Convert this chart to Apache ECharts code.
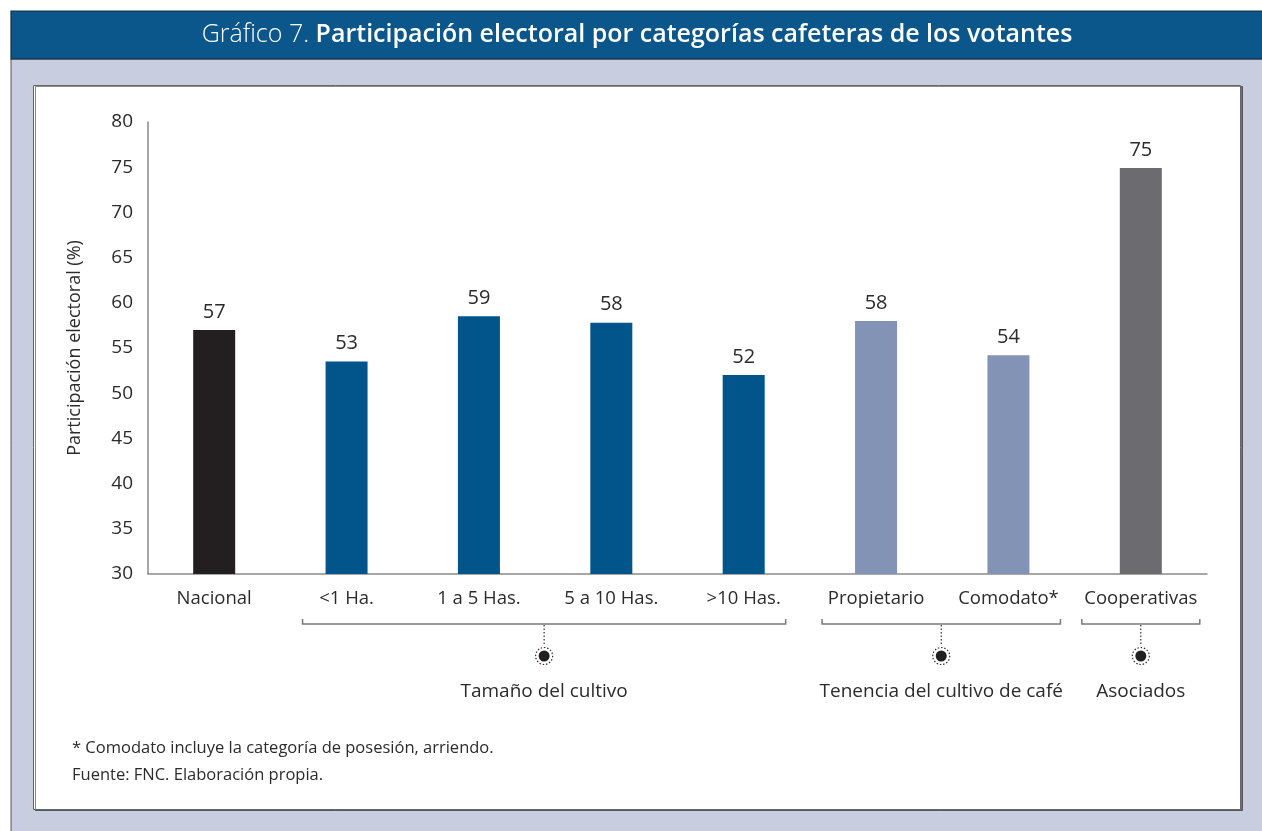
<!DOCTYPE html>
<html><head><meta charset="utf-8">
<script src="https://cdn.jsdelivr.net/npm/echarts@6/dist/echarts.min.js"></script>
<style>html,body{margin:0;padding:0;background:#fff}#c{width:1262px;height:831px}</style>
</head><body><div id="c"></div>
<script>
// ---- data ----
const categories = ['Nacional', '<1 Ha.', '1 a 5 Has.', '5 a 10 Has.', '>10 Has.', 'Propietario', 'Comodato*', 'Cooperativas'];
const values = [57.0, 53.5, 58.5, 57.8, 52.0, 58.0, 54.2, 74.9];
const valueLabels = ['57', '53', '59', '58', '52', '58', '54', '75'];
const groupNames = ['Tamaño del cultivo', 'Tenencia del cultivo de café', 'Asociados'];
const groupFirst = [1, 5, 7];
const groupLast = [4, 6, 7];
const yMin = 30, yMax = 80, yStep = 5;
const titlePrefix = 'Gráfico 7. ';
const titleMain = 'Participación electoral por categorías cafeteras de los votantes';
const yAxisName = 'Participación electoral (%)';
const notes = ['* Comodato incluye la categoría de posesión, arriendo.', 'Fuente: FNC. Elaboración propia.'];

// ---- styles ----
const barColors = ['#231f20', '#02558b', '#02558b', '#02558b', '#02558b', '#8393b6', '#8393b6', '#6b6b70'];
const groupPad = [[44, 42], [54, 52], [59, 59]];
const FONT = '"Open Sans", "Noto Sans", sans-serif';
const TXT = '#2b2b2b';

const chart = echarts.init(document.getElementById('c'), null, {renderer: 'canvas'});

const option = {
  animation: false,
  backgroundColor: '#ffffff',
  textStyle: {fontFamily: FONT},
  grid: {left: 148, right: 55, top: 122, bottom: 257, containLabel: false},
  xAxis: {
    type: 'category',
    data: categories,
    axisLine: {lineStyle: {color: '#8a8a8a', width: 1.5}},
    axisTick: {show: false},
    axisLabel: {color: TXT, fontSize: 18.5, margin: 15, fontFamily: FONT, interval: 0}
  },
  yAxis: {
    type: 'value',
    min: yMin, max: yMax, interval: yStep,
    name: yAxisName,
    nameLocation: 'middle',
    nameGap: 64,
    nameTextStyle: {color: TXT, fontSize: 18, fontFamily: FONT},
    splitLine: {show: false},
    axisLine: {show: true, lineStyle: {color: '#8a8a8a', width: 1.5}},
    axisTick: {show: false},
    axisLabel: {color: TXT, fontSize: 19, margin: 15, fontFamily: FONT}
  },
  series: [{
    type: 'bar',
    barWidth: 42,
    data: values.map((v, i) => ({value: v, itemStyle: {color: barColors[i]}})),
    label: {
      show: true, position: 'top', distance: 8,
      color: TXT, fontSize: 20, fontFamily: FONT,
      formatter: p => valueLabels[p.dataIndex]
    }
  }],
  graphic: []
};
chart.setOption(option);

// ---- frame, title, brackets, notes ----
const g = [];
g.push({type: 'rect', z: -10, silent: true, shape: {x: 11, y: 59, width: 1260, height: 780},
  style: {fill: '#c8cde0', stroke: '#555', lineWidth: 1}});
g.push({type: 'rect', z: -9, silent: true, shape: {x: 11, y: 11, width: 1260, height: 48},
  style: {fill: '#0b568a', stroke: '#1b2b3b', lineWidth: 1.2}});
g.push({type: 'rect', z: -9, silent: true, shape: {x: 33.5, y: 85.5, width: 1207, height: 724},
  style: {fill: '#ffffff', stroke: '#666', lineWidth: 1, shadowColor: 'rgba(0,0,0,0.45)', shadowOffsetX: 2, shadowOffsetY: 1, shadowBlur: 0}});
g.push({type: 'text', z: 5, silent: true, x: 637, y: 35,
  style: {text: '{a|' + titlePrefix + '}{b|' + titleMain + '}', align: 'center', verticalAlign: 'middle',
    rich: {a: {fill: '#ffffff', fontSize: 25, fontWeight: 300, fontFamily: FONT},
           b: {fill: '#ffffff', fontSize: 25, fontWeight: 600, fontFamily: FONT}}}});

const axisY = chart.convertToPixel({yAxisIndex: 0}, yMin);
const by = axisY + 50;
for (let k = 0; k < groupNames.length; k++) {
  const x1 = chart.convertToPixel({xAxisIndex: 0}, groupFirst[k]) - groupPad[k][0];
  const x2 = chart.convertToPixel({xAxisIndex: 0}, groupLast[k]) + groupPad[k][1];
  const cx = (x1 + x2) / 2;
  g.push({type: 'polyline', z: 5, silent: true, shape: {points: [[x1, by - 5], [x1, by], [x2, by], [x2, by - 5]]},
    style: {stroke: '#7a7a7a', lineWidth: 1.5, fill: null}});
  g.push({type: 'line', z: 5, silent: true, shape: {x1: cx, y1: by + 1, x2: cx, y2: by + 22},
    style: {stroke: '#333', lineWidth: 1.2, lineDash: [1.5, 2]}});
  g.push({type: 'circle', z: 5, silent: true, shape: {cx: cx, cy: by + 32, r: 8.5},
    style: {fill: null, stroke: '#333', lineWidth: 1.2, lineDash: [1.5, 1.8]}});
  g.push({type: 'circle', z: 5, silent: true, shape: {cx: cx, cy: by + 32, r: 5.5},
    style: {fill: '#231f20'}});
  g.push({type: 'text', z: 5, silent: true, x: cx, y: by + 68,
    style: {text: groupNames[k], align: 'center', verticalAlign: 'middle', fill: TXT, fontSize: 19, fontFamily: FONT}});
}
g.push({type: 'text', z: 5, silent: true, x: 72, y: 748,
  style: {text: notes[0], align: 'left', verticalAlign: 'middle', fill: TXT, fontSize: 16.5, fontFamily: FONT}});
g.push({type: 'text', z: 5, silent: true, x: 72, y: 775,
  style: {text: notes[1], align: 'left', verticalAlign: 'middle', fill: TXT, fontSize: 16.5, fontFamily: FONT}});

chart.setOption({graphic: g});
</script>
</body></html>
